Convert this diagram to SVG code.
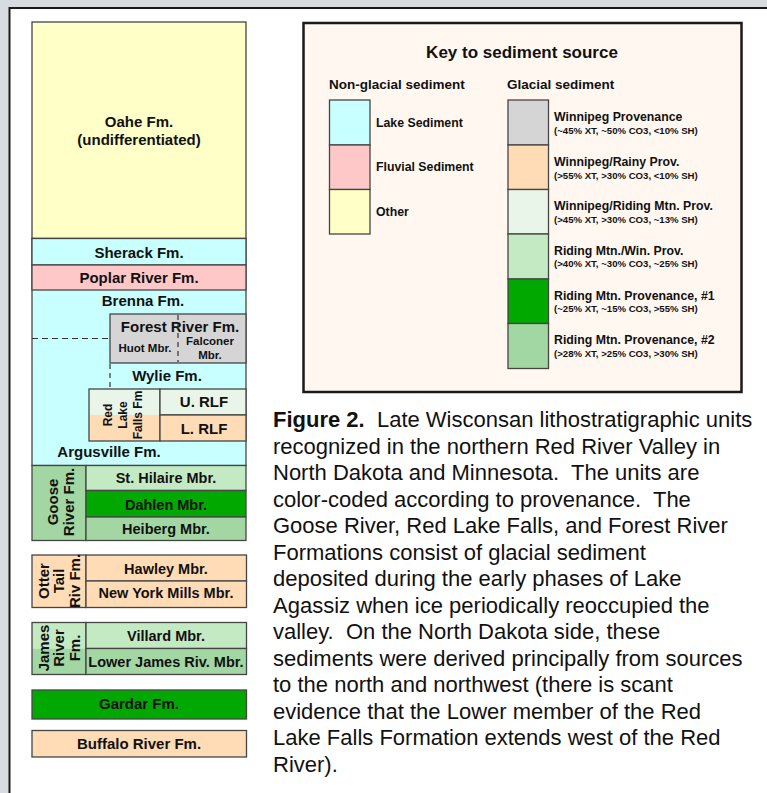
<svg xmlns="http://www.w3.org/2000/svg" width="767" height="793" viewBox="0 0 767 793">
<style>
.b{stroke:#454545;stroke-width:1.3}
.t{font-family:"Liberation Sans",Arial,sans-serif;font-weight:bold;fill:#111;text-anchor:middle}
.f{font-size:15px}
.m{font-size:14.5px}
.s{font-size:11.5px}
.k{font-family:"Liberation Sans",Arial,sans-serif;font-weight:bold;fill:#111}
.cap{font-family:"Liberation Sans",Arial,sans-serif;font-size:22px;fill:#111}
.d{stroke:#333;stroke-width:1.2;stroke-dasharray:6 4;fill:none}
.lake{fill:#c8ffff}.fluv{fill:#ffc8c8}.oth{fill:#ffffc8}.win{fill:#d5d5d5}.rainy{fill:#ffdcb5}
.wrm{fill:#e8f5e8}.rmw{fill:#c4eac4}.rm1{fill:#00a800}.rm2{fill:#a2d6a2}
</style>
<rect width="767" height="793" fill="#d8dbdf"/>
<rect x="9.5" y="8" width="800" height="800" fill="#fff" stroke="#1a1a1a" stroke-width="2"/>

<g id="oahe">
<rect x="32" y="22" width="214" height="216.5" class="oth b"/>
<text class="t f" x="139" y="127">Oahe Fm.</text>
<text class="t f" x="139" y="145">(undifferentiated)</text>
</g>
<g id="lake-block">
<rect x="32" y="238.5" width="214" height="227" class="lake b"/>
</g>
<g id="sherack">
<rect x="32" y="238.5" width="214" height="26.5" class="lake b"/>
<text class="t f" x="139" y="258">Sherack Fm.</text>
</g>
<g id="poplar">
<rect x="32" y="265" width="214" height="25" class="fluv b"/>
<text class="t f" x="139" y="283">Poplar River Fm.</text>
</g>
<g id="brenna">
<text class="t f" x="143" y="306">Brenna Fm.</text>
</g>
<g id="forest-river">
<rect x="110" y="314" width="136" height="49" class="win b"/>
<text class="t f" x="180" y="332">Forest River Fm.</text>
<text class="t s" x="145" y="352">Huot Mbr.</text>
<text class="t s" x="210" y="345">Falconer</text>
<text class="t s" x="210" y="359">Mbr.</text>
</g>
<g id="wylie">
<text class="t f" x="167" y="381">Wylie Fm.</text>
</g>
<g id="red-lake-falls">
<rect x="89" y="389" width="71" height="26" class="wrm"/>
<rect x="89" y="415" width="71" height="26" class="rainy"/>
<rect x="89" y="389" width="71" height="52" fill="none" class="b"/>
<rect x="160" y="389" width="86" height="26" class="wrm b"/>
<rect x="160" y="415" width="86" height="26" class="rainy b"/>
<g class="t" style="font-size:12px" transform="translate(0,415) rotate(-90)">
<text x="0" y="112">Red</text>
<text x="0" y="127">Lake</text>
<text x="0" y="142">Falls Fm</text>
</g>
<text class="t f" x="204" y="407">U. RLF</text>
<text class="t f" x="204" y="434">L. RLF</text>
</g>
<g id="argusville">
<text class="t f" x="109" y="457">Argusville Fm.</text>
</g>
<g id="goose-river">
<rect x="32" y="465.5" width="54" height="75" class="rm2 b"/>
<rect x="86" y="465.5" width="160" height="25" class="rmw b"/>
<rect x="86" y="490.5" width="160" height="26.5" class="rm1 b"/>
<rect x="86" y="517" width="160" height="23.5" class="rm2 b"/>
<g class="t f" transform="translate(0,502) rotate(-90)">
<text x="0" y="58">Goose</text>
<text x="0" y="74">River Fm.</text>
</g>
<text class="t m" x="166" y="483">St. Hilaire Mbr.</text>
<text class="t m" x="166" y="510">Dahlen Mbr.</text>
<text class="t m" x="166" y="534">Heiberg Mbr.</text>
</g>
<g id="otter-tail">
<rect x="32" y="555" width="54" height="52.5" class="rainy b"/>
<rect x="86" y="555" width="160.5" height="26" class="rainy b"/>
<rect x="86" y="581" width="160.5" height="26.5" class="rainy b"/>
<g class="t f" transform="translate(0,581) rotate(-90)">
<text x="0" y="49">Otter</text>
<text x="0" y="64">Tail</text>
<text x="0" y="80">Riv Fm.</text>
</g>
<text class="t m" x="166" y="574">Hawley Mbr.</text>
<text class="t m" x="166" y="598">New York Mills Mbr.</text>
</g>
<g id="james-river">
<rect x="32" y="622.5" width="54" height="26" class="rmw"/>
<rect x="32" y="648.5" width="54" height="26" class="rm2"/>
<rect x="32" y="622.5" width="54" height="52" fill="none" class="b"/>
<rect x="86" y="622.5" width="160.5" height="26" class="rmw b"/>
<rect x="86" y="648.5" width="160.5" height="26" class="rm2 b"/>
<g class="t f" transform="translate(0,648) rotate(-90)">
<text x="0" y="49">James</text>
<text x="0" y="64">River</text>
<text x="0" y="80">Fm.</text>
</g>
<text class="t m" x="166" y="641">Villard Mbr.</text>
<text class="t m" x="166" y="667">Lower James Riv. Mbr.</text>
</g>
<g id="gardar">
<rect x="32" y="690" width="214.5" height="29" class="rm1 b"/>
<text class="t f" x="139" y="709">Gardar Fm.</text>
</g>
<g id="buffalo-river">
<rect x="32" y="730.5" width="214.5" height="26.5" class="rainy b"/>
<text class="t f" x="139" y="749">Buffalo River Fm.</text>
</g>

<g id="connectors">
<line x1="32" y1="338.5" x2="110" y2="338.5" class="d"/>
<line x1="178" y1="315" x2="178" y2="362" class="d" style="stroke-dasharray:5 4"/>
<line x1="110" y1="364" x2="110" y2="389" class="d" style="stroke-dasharray:5 4"/>
</g>

<g id="key">
<rect x="303.5" y="23" width="438" height="369" fill="#fff7f0" stroke="#1a1a1a" stroke-width="2.5"/>
<text class="t" style="font-size:17px" x="522" y="57.5">Key to sediment source</text>
<text class="k" style="font-size:13.5px" x="329" y="89">Non-glacial sediment</text>
<text class="k" style="font-size:13.5px" x="507" y="89">Glacial sediment</text>
<g id="key-nonglacial">
<rect x="329.5" y="100" width="40.5" height="45" class="lake b"/>
<rect x="329.5" y="145" width="40.5" height="44.5" class="fluv b"/>
<rect x="329.5" y="189.5" width="40.5" height="44.5" class="oth b"/>
<text class="k" style="font-size:12.3px" x="376" y="126.5">Lake Sediment</text>
<text class="k" style="font-size:12.3px" x="376" y="171">Fluvial Sediment</text>
<text class="k" style="font-size:12.3px" x="376" y="216">Other</text>
</g>
<g id="key-glacial">
<rect x="508" y="100" width="40.5" height="45" class="win b"/>
<rect x="508" y="145" width="40.5" height="44.5" class="rainy b"/>
<rect x="508" y="189.5" width="40.5" height="44.5" class="wrm b"/>
<rect x="508" y="234" width="40.5" height="45" class="rmw b"/>
<rect x="508" y="279" width="40.5" height="44.5" class="rm1 b"/>
<rect x="508" y="323.5" width="40.5" height="45" class="rm2 b"/>
<g class="k" style="font-size:12.3px">
<text x="554" y="121">Winnipeg Provenance</text>
<text x="554" y="166">Winnipeg/Rainy Prov.</text>
<text x="554" y="210">Winnipeg/Riding Mtn. Prov.</text>
<text x="554" y="255">Riding Mtn./Win. Prov.</text>
<text x="554" y="299.5">Riding Mtn. Provenance, #1</text>
<text x="554" y="344">Riding Mtn. Provenance, #2</text>
</g>
<g class="k" style="font-size:9.6px">
<text x="554" y="133.5">(~45% XT, ~50% CO3, &lt;10% SH)</text>
<text x="554" y="178.5">(&gt;55% XT, &gt;30% CO3, &lt;10% SH)</text>
<text x="554" y="222.5">(&gt;45% XT, &gt;30% CO3, ~13% SH)</text>
<text x="554" y="267">(&gt;40% XT, ~30% CO3, ~25% SH)</text>
<text x="554" y="311.5">(~25% XT, ~15% CO3, &gt;55% SH)</text>
<text x="554" y="356.5">(&gt;28% XT, &gt;25% CO3, &gt;30% SH)</text>
</g>
</g>
</g>

<g id="caption" class="cap">
<text x="273" y="427"><tspan font-weight="bold">Figure 2.</tspan>&#160; Late Wisconsan lithostratigraphic units</text>
<text x="273" y="453.5">recognized in the northern Red River Valley in</text>
<text x="273" y="480">North Dakota and Minnesota.&#160; The units are</text>
<text x="273" y="506.5">color-coded according to provenance.&#160; The</text>
<text x="273" y="533">Goose River, Red Lake Falls, and Forest River</text>
<text x="273" y="559.5">Formations consist of glacial sediment</text>
<text x="273" y="586">deposited during the early phases of Lake</text>
<text x="273" y="612.5">Agassiz when ice periodically reoccupied the</text>
<text x="273" y="639">valley.&#160; On the North Dakota side, these</text>
<text x="273" y="665.5">sediments were derived principally from sources</text>
<text x="273" y="692">to the north and northwest (there is scant</text>
<text x="273" y="718.5">evidence that the Lower member of the Red</text>
<text x="273" y="745">Lake Falls Formation extends west of the Red</text>
<text x="273" y="771.5">River).</text>
</g>
</svg>
